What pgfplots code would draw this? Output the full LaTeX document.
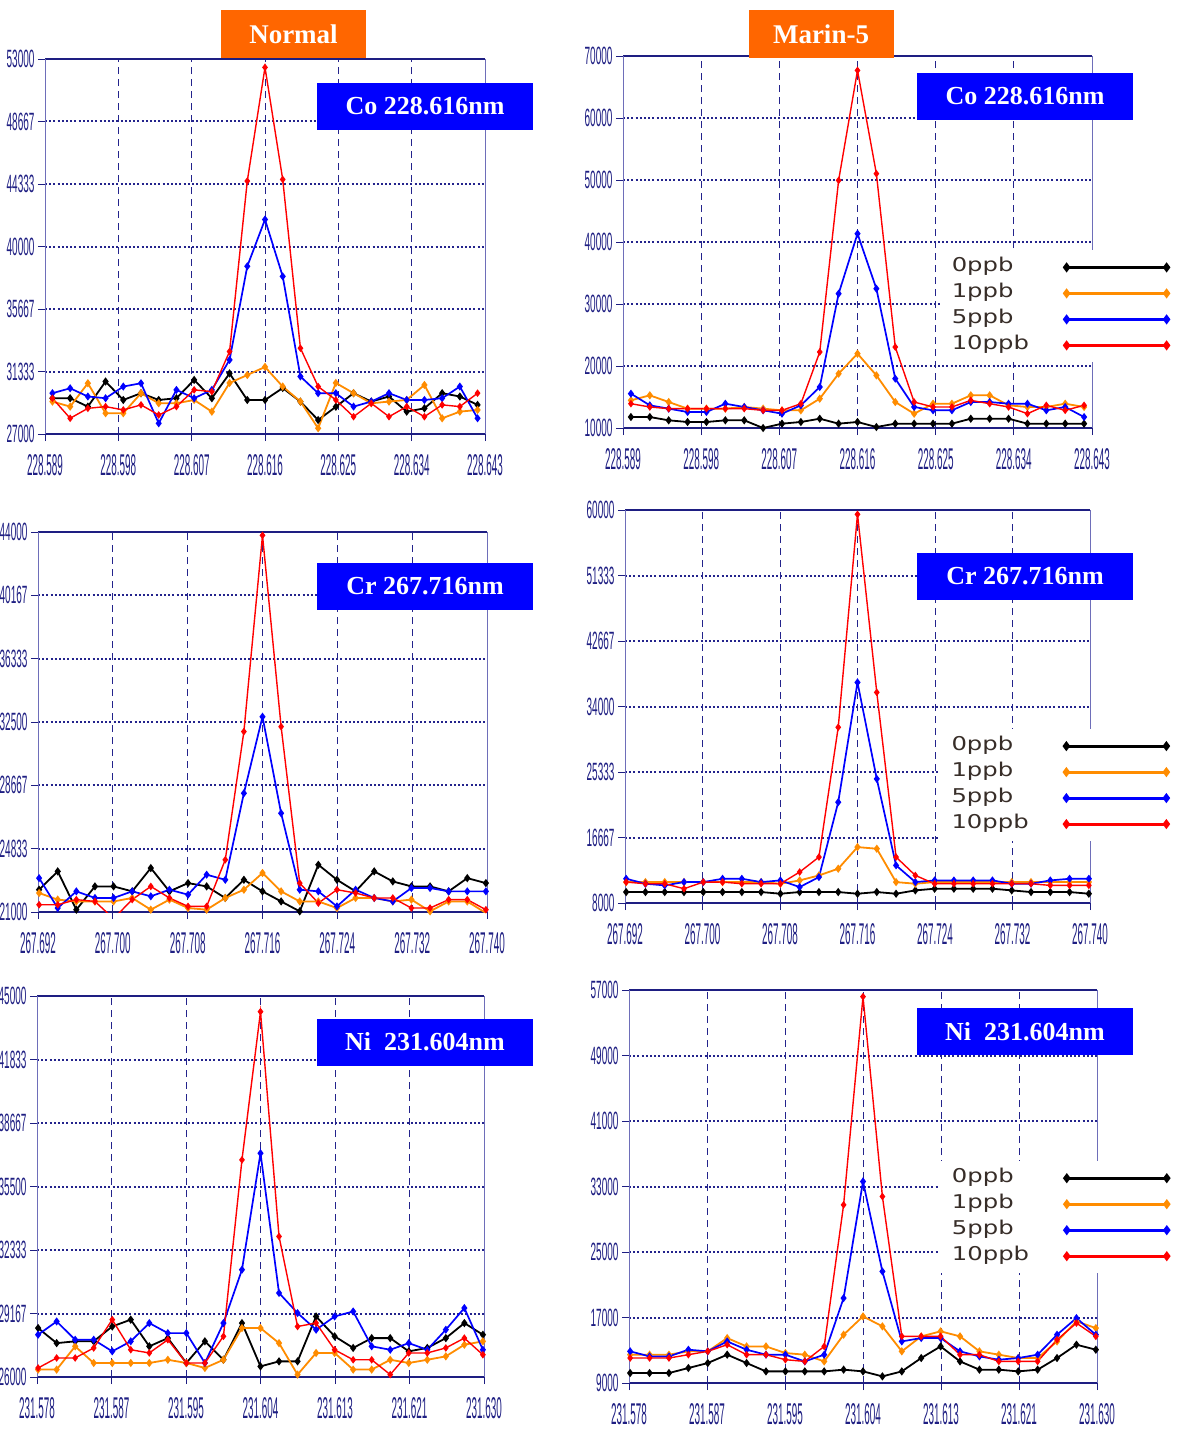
\documentclass[border=0pt]{standalone}
\usepackage{fontspec}
\setmainfont{Liberation Serif}
\setsansfont{Liberation Sans}
\newfontfamily\legfont{DejaVu Sans}
\usepackage{graphicx}
\usepackage{pgfplots}
\usepackage{pgfplotstable}
\pgfplotsset{compat=1.18}
\definecolor{navy}{RGB}{30,30,130}
\definecolor{gridc}{RGB}{35,35,140}
\definecolor{axc}{RGB}{110,110,185}
\definecolor{c0}{RGB}{0,0,0}
\definecolor{c1}{RGB}{255,140,0}
\definecolor{c5}{RGB}{0,0,255}
\definecolor{c10}{RGB}{255,0,0}
\definecolor{hdr}{RGB}{255,102,0}
\definecolor{lbl}{RGB}{0,0,255}
\definecolor{legtext}{RGB}{55,45,40}
\newcommand\xl[1]{\scalebox{0.33}[1]{#1}}
\newcommand\yl[1]{\scalebox{0.4}[1]{#1}}
\newcommand\lgd[1]{\scalebox{1.28}[1]{#1}}

% Normal Co 228.616
\pgfplotstableread{
i z o b r
0 29480 29250 29830 29480
1 29480 28900 30170 28090
2 28900 30520 29600 28780
3 30640 28440 29480 28900
4 29360 28440 30290 28670
5 29830 29830 30520 29020
6 29360 29130 27740 28320
7 29480 29130 30060 28900
8 30750 29360 29480 30060
9 29480 28550 30060 29940
10 31200 30540 32140 32720
11 29360 31090 38630 44540
12 29360 31650 41870 52420
13 30190 30290 37930 44650
14 29240 29250 30990 32950
15 27970 27400 29830 30290
16 28890 30540 29830 29360
17 29830 29830 28900 28200
18 29250 29130 29250 29130
19 29600 29250 29830 28200
20 28550 29360 29360 28900
21 28780 30400 29360 28200
22 29830 28090 29480 29020
23 29600 28550 30290 28900
24 29020 28670 28090 29830
}\tA
% Marin-5 Co
\pgfplotstableread{
i z o b r
0 11770 14460 15540 13920
1 11770 15270 13660 13390
2 11240 14190 13120 13120
3 10970 13120 12580 13120
4 10970 13120 12580 13120
5 11240 13120 13920 13120
6 11240 13390 13390 13120
7 10000 13120 12850 12850
8 10700 12850 12310 12850
9 10970 12850 13660 13920
10 11500 14730 16610 22260
11 10700 18760 31670 49940
12 10970 21990 41340 67680
13 10160 18490 32470 51020
14 10700 14190 17960 23060
15 10700 12310 13390 14190
16 10700 13920 12850 13390
17 10700 13920 12850 13390
18 11500 15270 14190 14460
19 11500 15270 14190 13920
20 11500 13660 13920 13390
21 10700 13390 13920 12310
22 10700 13390 12850 13660
23 10700 13920 13390 12850
24 10700 13390 11770 13660
}\tB
% Normal Cr
\pgfplotstableread{
i z o b r
0 22350 22150 23050 21440
1 23460 21750 21240 21440
2 21140 21640 22250 21750
3 22550 21640 21850 21640
4 22550 21640 21850 20600
5 22250 21850 22250 21750
6 23660 21140 21950 22550
7 22250 21750 22350 21850
8 22750 21240 22050 21340
9 22550 21140 23260 21340
10 21850 21850 22950 24160
11 22950 22350 28190 31920
12 22250 23360 32820 43800
13 21640 22250 26980 32220
14 21040 21640 22350 22750
15 23860 21640 22250 21540
16 22950 21240 21340 22350
17 22250 21850 22350 22150
18 23460 21850 21850 21850
19 22850 21640 21640 21850
20 22550 21750 22450 21240
21 22550 21040 22450 21240
22 22250 21640 22250 21750
23 23050 21640 22250 21750
24 22750 20940 22250 21140
}\tC
% Marin-5 Cr
\pgfplotstableread{
i z o b r
0 9450 10770 11210 10770
1 9450 10770 10550 10550
2 9450 10770 10330 10550
3 9450 10770 10770 9890
4 9450 10770 10770 10770
5 9450 10770 11210 10770
6 9450 10770 11210 10550
7 9450 10770 10770 10550
8 9230 10550 10990 10550
9 9450 10990 10110 12100
10 9450 11650 11430 14080
11 9450 12540 21340 31250
12 9230 15400 37190 59430
13 9450 15180 24420 35870
14 9230 10770 12980 14080
15 9670 10550 10770 11650
16 9890 10770 10990 10550
17 9890 10770 10990 10550
18 9890 10770 10990 10550
19 9890 10770 10990 10550
20 9670 10770 10550 10550
21 9450 10770 10550 10550
22 9450 10770 10990 10330
23 9450 10770 11210 10330
24 9230 10770 11210 10330
}\tD
% Normal Ni
\pgfplotstableread{
i z o b r
0 28440 26370 28110 26450
1 27690 26370 28770 26950
2 27780 27530 27860 26950
3 27780 26700 27860 27450
4 28520 26700 27280 28860
5 28860 26700 27780 27360
6 27530 26700 28690 27200
7 27940 26860 28190 27860
8 26700 26700 28190 26700
9 27780 26450 26700 26700
10 26860 26860 28690 28030
11 28690 28440 31350 36830
12 26530 28440 37160 44220
13 26780 27690 30190 33010
14 26780 26120 29190 28520
15 29020 27200 28360 28690
16 28030 27200 29020 27360
17 27450 26370 29270 26860
18 27940 26370 27530 26860
19 27940 26860 27360 26120
20 27280 26700 27690 27200
21 27450 26860 27360 27200
22 27940 27030 28360 27450
23 28690 27610 29440 27940
24 28110 27780 27360 27110
}\tE
% Marin-5 Ni
\pgfplotstableread{
i z o b r
0 10220 12460 12870 12050
1 10220 12460 12250 12050
2 10220 12460 12250 12050
3 10830 12870 13070 12460
4 11440 12870 12870 12870
5 12460 14490 14080 13680
6 11440 13470 13070 12460
7 10420 13470 12460 12460
8 10420 12660 12460 11850
9 10420 12460 11640 11640
10 10420 11640 12460 13470
11 10630 14900 19370 30760
12 10420 17140 33610 56190
13 9810 15920 22630 31780
14 10420 12870 14080 14700
15 12050 14700 14490 14700
16 13470 15310 14490 14700
17 11640 14700 12870 12460
18 10630 12870 12250 12460
19 10630 12460 11850 11640
20 10420 12050 12050 11640
21 10630 12050 12460 11640
22 12050 14080 14900 14290
23 13680 16530 16930 16320
24 13070 15710 14900 14700
}\tF

\pgfplotsset{
 panel/.style={
  scale only axis, anchor=south west,
  axis lines=box, separate axis lines,
  scaled ticks=false,
  x axis line style={draw=navy, line width=2.4pt},
  y axis line style={draw=axc, line width=0.9pt},
  tick align=outside, major tick length=7pt,
  tick style={draw=navy, line width=0.9pt},
  xtick pos=bottom, ytick pos=left,
  xmajorgrids, ymajorgrids,
  x grid style={draw=gridc, line width=1pt, dash pattern=on 7pt off 5pt},
  y grid style={draw=gridc, line width=2pt, dash pattern=on 2pt off 2.2pt},
  xticklabel style={font=\fontsize{30}{30}\selectfont\sffamily, text=navy, yshift=-10pt},
  yticklabel style={font=\fontsize{25}{25}\selectfont\sffamily, text=navy},
  extra x tick style={xmajorgrids=false},
  extra y tick style={ymajorgrids=false},
 },
 coaxis/.style={xmin=-0.42, xmax=24.42, xtick={3.72,7.86,12,16.14,20.28}, extra x ticks={-0.42,24.42}},
 crniaxis/.style={xmin=-0.06, xmax=24.06, xtick={3.96,7.98,12,16.02,20.04}, extra x ticks={-0.06,24.06}},
 s0/.style={c0, line width=1.8pt, mark=diamond*, mark size=2.7pt},
 s1/.style={c1, line width=1.8pt, mark=diamond*, mark size=2.7pt},
 s5/.style={c5, line width=1.7pt, mark=diamond*, mark size=2.7pt},
 s10/.style={c10, line width=1.4pt, mark=diamond*, mark size=2.7pt},
 marinleg/.style={
  legend style={at={(rel axis cs:#1)}, anchor=north west, draw=none, fill=white,
   inner xsep=8pt, inner ysep=4pt,
   font=\legfont\fontsize{19}{19}\selectfont, text=legtext, row sep=0pt, column sep=32pt,
   nodes={inner sep=3.5pt, text height=14pt, text depth=5pt}},
  legend cell align=left, legend plot pos=right,
  legend image code/.code={\draw[##1, line width=2.8pt, mark size=2.8pt] plot coordinates {(0pt,0pt) (100pt,0pt)};},
  legend entries={\lgd{0ppb},\lgd{1ppb},\lgd{5ppb},\lgd{10ppb}},
 },
}
\newcommand\fourplots[1]{%
 \addplot[s0] table[x=i,y=z]{#1};
 \addplot[s1] table[x=i,y=o]{#1};
 \addplot[s5] table[x=i,y=b]{#1};
 \addplot[s10] table[x=i,y=r]{#1};
}

\begin{document}
\begin{tikzpicture}
\path[use as bounding box] (0pt,0pt) rectangle (1183pt,-1430pt);

% ---- Normal Co
\begin{axis}[panel, coaxis, at={(45pt,-434pt)}, width=440pt, height=375pt,
 ymin=27000, ymax=53000, ytick={31333,35667,40000,44333,48667},
 yticklabels={\yl{31333},\yl{35667},\yl{40000},\yl{44333},\yl{48667}},
 extra y ticks={27000,53000}, extra y tick labels={\yl{27000},\yl{53000}},
 xticklabels={\xl{228.598},\xl{228.607},\xl{228.616},\xl{228.625},\xl{228.634}},
 extra x tick labels={\xl{228.589},\xl{228.643}}]
\fourplots{\tA}
\end{axis}

% ---- Marin Co
\begin{axis}[panel, coaxis, at={(623pt,-428pt)}, width=469pt, height=372pt,
 ymin=10000, ymax=70000, ytick={20000,30000,40000,50000,60000},
 yticklabels={\yl{20000},\yl{30000},\yl{40000},\yl{50000},\yl{60000}},
 extra y ticks={10000,70000}, extra y tick labels={\yl{10000},\yl{70000}},
 xticklabels={\xl{228.598},\xl{228.607},\xl{228.616},\xl{228.625},\xl{228.634}},
 extra x tick labels={\xl{228.589},\xl{228.643}},
 marinleg={0.676,0.478}]
\fourplots{\tB}
\end{axis}

% ---- Normal Cr
\begin{axis}[panel, crniaxis, at={(38pt,-912pt)}, width=449pt, height=380pt,
 ymin=21000, ymax=44000, ytick={24833,28667,32500,36333,40167},
 yticklabels={\yl{24833},\yl{28667},\yl{32500},\yl{36333},\yl{40167}},
 extra y ticks={21000,44000}, extra y tick labels={\yl{21000},\yl{44000}},
 xticklabels={\xl{267.700},\xl{267.708},\xl{267.716},\xl{267.724},\xl{267.732}},
 extra x tick labels={\xl{267.692},\xl{267.740}}]
\fourplots{\tC}
\end{axis}

% ---- Marin Cr
\begin{axis}[panel, crniaxis, at={(625pt,-903pt)}, width=465pt, height=393pt,
 ymin=8000, ymax=60000, ytick={16667,25333,34000,42667,51333},
 yticklabels={\yl{16667},\yl{25333},\yl{34000},\yl{42667},\yl{51333}},
 extra y ticks={8000,60000}, extra y tick labels={\yl{8000},\yl{60000}},
 xticklabels={\xl{267.700},\xl{267.708},\xl{267.716},\xl{267.724},\xl{267.732}},
 extra x tick labels={\xl{267.692},\xl{267.740}},
 marinleg={0.677,0.443}]
\fourplots{\tD}
\end{axis}

% ---- Normal Ni
\begin{axis}[panel, crniaxis, at={(37pt,-1377pt)}, width=447pt, height=381pt,
 ymin=26000, ymax=45000, ytick={29167,32333,35500,38667,41833},
 yticklabels={\yl{29167},\yl{32333},\yl{35500},\yl{38667},\yl{41833}},
 extra y ticks={26000,45000}, extra y tick labels={\yl{26000},\yl{45000}},
 xticklabels={\xl{231.587},\xl{231.595},\xl{231.604},\xl{231.613},\xl{231.621}},
 extra x tick labels={\xl{231.578},\xl{231.630}}]
\fourplots{\tE}
\end{axis}

% ---- Marin Ni
\begin{axis}[panel, crniaxis, at={(629pt,-1383pt)}, width=468pt, height=393pt,
 ymin=9000, ymax=57000, ytick={17000,25000,33000,41000,49000},
 yticklabels={\yl{17000},\yl{25000},\yl{33000},\yl{41000},\yl{49000}},
 extra y ticks={9000,57000}, extra y tick labels={\yl{9000},\yl{57000}},
 xticklabels={\xl{231.587},\xl{231.595},\xl{231.604},\xl{231.613},\xl{231.621}},
 extra x tick labels={\xl{231.578},\xl{231.630}},
 marinleg={0.665,0.565}]
\fourplots{\tF}
\end{axis}

% ---- headers and labels
\tikzset{hbox/.style={fill=hdr, text=white, font=\bfseries\fontsize{27}{27}\selectfont, minimum width=145pt, minimum height=48pt, inner sep=0pt},
 lbox/.style={fill=lbl, text=white, font=\bfseries\fontsize{26}{26}\selectfont, minimum width=216pt, minimum height=47pt, inner sep=0pt}}
\node[hbox] at (293.5pt,-34pt) {Normal};
\node[hbox] at (821pt,-34pt) {Marin-5};
\node[lbox] at (425pt,-106.5pt) {Co 228.616nm};
\node[lbox] at (1025pt,-96pt) {Co 228.616nm};
\node[lbox] at (425pt,-586pt) {Cr 267.716nm};
\node[lbox] at (1025pt,-576pt) {Cr 267.716nm};
\node[lbox] at (425pt,-1042pt) {Ni\ \ 231.604nm};
\node[lbox] at (1025pt,-1031.5pt) {Ni\ \ 231.604nm};
\end{tikzpicture}
\end{document}
